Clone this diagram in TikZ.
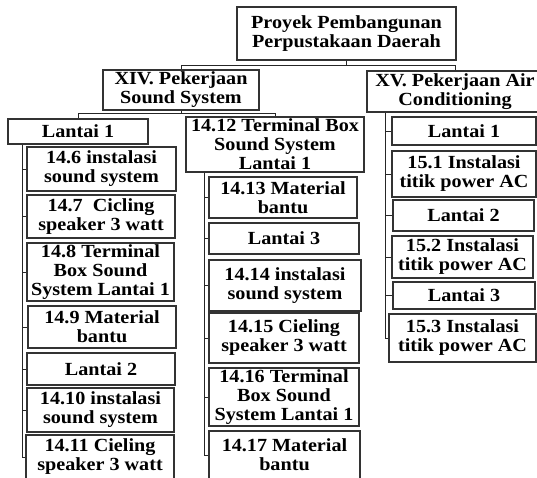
\documentclass[tikz,border=0pt]{standalone}
\usepackage{fontspec}
\setmainfont{Liberation Serif}[FakeStretch=1.09]
\tikzset{
  box/.style={draw=black!80, line width=1.1pt, fill=white, inner sep=0pt, align=center,
    font=\fontsize{18.5}{19}\selectfont\bfseries},
  conn/.style={line width=1pt, draw=black!85}
}
\newcommand\Bx[6]{\node[box,minimum width={#4-#2},minimum height={#5-#3}] (#1) at ({(#2+#4)/2},{(#3+#5)/2}) {#6};}
\begin{document}
\begin{tikzpicture}[x=1pt,y=-1pt]
\useasboundingbox (0,0) rectangle (537,477);
\clip (0,0) rectangle (537,477);
% top levels
\Bx{root}{237}{7}{456}{60}{Proyek Pembangunan\\Perpustakaan Daerah}
\Bx{xiv}{103}{70}{259}{110}{XIV. Pekerjaan\\Sound System}
\Bx{xv}{367}{71}{543}{112}{XV. Pekerjaan Air\\Conditioning}
% left column
\Bx{l1}{8}{119}{148}{144}{Lantai 1}
\Bx{b146}{27}{147}{176}{191}{14.6 instalasi\\sound system}
\Bx{b147}{27}{195}{175}{238}{14.7\ \ Cicling\\speaker 3 watt}
\Bx{b148}{27}{243}{174}{301}{14.8 Terminal\\Box Sound\\System Lantai 1}
\Bx{b149}{28}{306}{176}{348}{14.9 Material\\bantu}
\Bx{l2}{27}{353}{175}{385}{Lantai 2}
\Bx{b1410}{27}{388}{174}{432}{14.10 instalasi\\sound system}
\Bx{b1411}{26}{435}{174}{479}{14.11 Cieling\\speaker 3 watt}
% middle column
\Bx{m1412}{186}{117}{364}{172}{14.12 Terminal Box\\Sound System\\Lantai 1}
\Bx{b1413}{209}{177}{357}{218}{14.13 Material\\bantu}
\Bx{l3}{209}{223}{359}{254}{Lantai 3}
\Bx{b1414}{209}{260}{361}{311}{14.14 instalasi\\sound system}
\Bx{b1415}{209}{313}{359}{363}{14.15 Cieling\\speaker 3 watt}
\Bx{b1416}{209}{368}{359}{426}{14.16 Terminal\\Box Sound\\System Lantai 1}
\Bx{b1417}{209}{431}{360}{479}{14.17 Material\\bantu}
% right column
\Bx{rl1}{392}{117}{536}{145}{Lantai 1}
\Bx{b151}{392}{151}{536}{197}{15.1 Instalasi\\titik power AC}
\Bx{rl2}{393}{200}{534}{231}{Lantai 2}
\Bx{b152}{392}{236}{533}{278}{15.2 Instalasi\\titik power AC}
\Bx{rl3}{393}{282}{535}{309}{Lantai 3}
\Bx{b153}{389}{314}{536}{362}{15.3 Instalasi\\titik power AC}
% connectors, top
\coordinate (h1) at (0,65.5);
\draw[conn] (root.south) -- (root.south |- h1);
\draw[conn] (xiv.north) |- (xv.north |- h1) -- (xv.north);
\coordinate (h2) at (0,113);
\draw[conn] (xiv.south) -- (xiv.south |- h2);
\draw[conn] (l1.north) |- (m1412.north |- h2) -- (m1412.north);
% left spine
\coordinate (sL) at (22.5,0);
\draw[conn] (l1.south -| sL) |- (b1411.west);
\foreach \n in {b146,b147,b148,b149,l2,b1410} \draw[conn] (\n.west) -- (\n.west -| sL);
% middle spine
\coordinate (sM) at (204,0);
\draw[conn] (m1412.south -| sM) |- (b1417.west);
\foreach \n in {b1413,l3,b1414,b1415,b1416} \draw[conn] (\n.west) -- (\n.west -| sM);
% right spine
\coordinate (sR) at (385,0);
\draw[conn] (xv.south -| sR) |- (b153.west);
\foreach \n in {rl1,b151,rl2,b152,rl3} \draw[conn] (\n.west) -- (\n.west -| sR);
\end{tikzpicture}
\end{document}
